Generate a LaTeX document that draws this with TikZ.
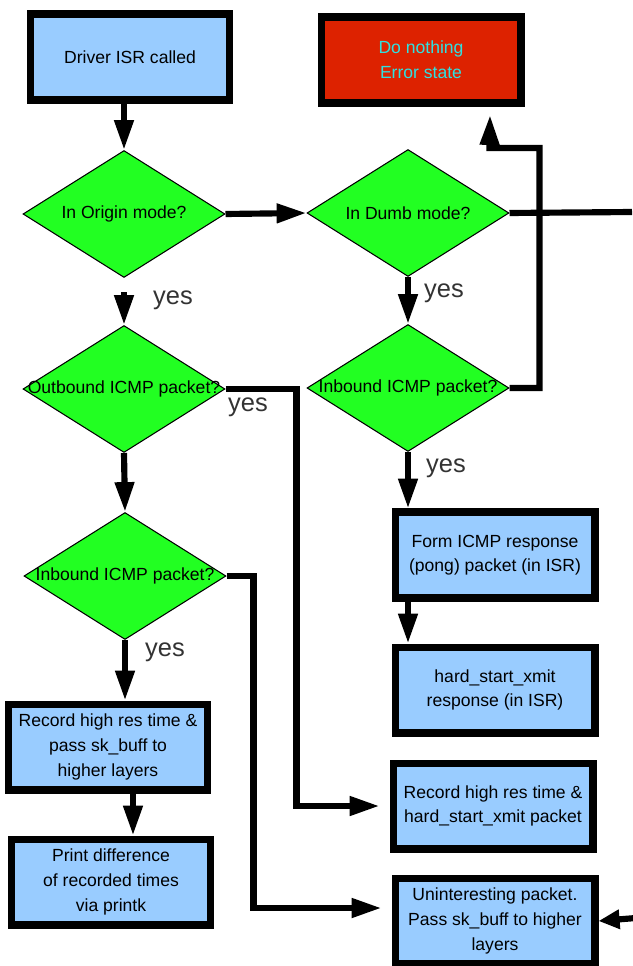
\documentclass[tikz,border=0pt]{standalone}
\usepackage{fontspec}
\setmainfont{Liberation Sans}
\usetikzlibrary{arrows.meta,shapes.geometric}
\definecolor{boxblue}{HTML}{99CCFF}
\definecolor{errred}{HTML}{DD2200}
\definecolor{errtext}{HTML}{30E0E0}
\definecolor{askgreen}{HTML}{22FF22}
\definecolor{yesgrey}{HTML}{333333}

\tikzset{
  stepbox/.style={draw=black,line width=4pt,fill=boxblue,minimum width=4cm,minimum height=1.72cm,align=center,inner sep=2pt},
  errbox/.style={stepbox,fill=errred,text=errtext},
  decision/.style={diamond,draw=black,line width=0.6pt,fill=askgreen,minimum width=4.04cm,minimum height=2.54cm,inner sep=0pt},
  yeslbl/.style={text=yesgrey,font=\fontsize{14.5}{16}\selectfont},
  flow/.style={line width=3.5pt,->},
}

\begin{document}
\begin{tikzpicture}[x=0.02cm,y=-0.02cm,>={Triangle[length=17pt,width=10.5pt]},font=\fontsize{10}{14}\selectfont]
  \useasboundingbox (0,0) rectangle (632,966);
  % boxes
  \node[stepbox] (isr) at (130,57) {Driver ISR called};
  \node[errbox] (err) at (421,60) {Do nothing\\Error state};
  \node[stepbox] (form) at (495,555) {Form ICMP response\\(pong) packet (in ISR)};
  \node[stepbox] (hard) at (495,690) {hard\_start\_xmit\\response (in ISR)};
  \node[stepbox] (recR) at (493,806) {Record high res time \&\\hard\_start\_xmit packet};
  \node[stepbox] (unint) at (495,921) {Uninteresting packet.\\Pass sk\_buff to higher\\layers};
  \node[stepbox] (recL) at (108,747) {Record high res time \&\\pass sk\_buff to\\higher layers};
  \node[stepbox] (print) at (111,882) {Print difference\\of recorded times\\via printk};
  % decisions
  \node[decision] (origin) at (124,214) {\makebox[0pt]{In Origin mode?}};
  \node[decision] (dumb) at (408,213) {\makebox[0pt]{In Dumb mode?}};
  \node[decision] (out) at (124,389) {\makebox[0pt]{Outbound ICMP packet?}};
  \node[decision] (inR) at (408,388) {\makebox[0pt]{Inbound ICMP packet?}};
  \node[decision] (inL) at (125,576) {\makebox[0pt]{Inbound ICMP packet?}};
  % free ends
  \coordinate (errin) at (490,115);
  \coordinate (offR) at (632,212);
  \coordinate (offB) at (636,918);
  % yes labels
  \node[yeslbl] (y1) at (173,300) {yes};
  \node[yeslbl] (y2) at (444,293) {yes};
  \node[yeslbl] (y3) at (248,407) {yes};
  \node[yeslbl] (y4) at (446,468) {yes};
  \node[yeslbl] (y5) at (165,652) {yes};
  % left column
  \draw[flow] (isr.south -| origin.north) -- (origin.north);
  \draw[flow,shorten <=0.28cm] (origin.south) -- (out.north);
  \draw[flow] (out.south) -- (inL.north);
  \draw[flow] (inL.south) -- (inL.south |- recL.north);
  \draw[flow] ([xshift=0.5cm]recL.south) -- ([xshift=0.5cm]recL.south |- print.north);
  % right column
  \draw[flow] (origin.east) -- (dumb.west);
  \draw[line width=3.5pt] (dumb.east) -- (offR);
  \draw[flow] (dumb.south) -- (inR.north);
  \draw[flow] (inR.east) -- ++(30,0) |- ++(-50,-240) -- (errin);
  \draw[flow] (inR.south) -- (inR.south |- form.north);
  \draw[flow] (form.south -| inR.south) -- (hard.north -| inR.south);
  % long runs
  \draw[flow,shorten >=0.2cm] (out.east) -- ++(71,0) |- (recR.west);
  \draw[flow,shorten >=0.2cm] (inL.east) -- ++(27,0) |- ([yshift=0.26cm]unint.west);
  \draw[line width=3.5pt,-{Triangle[length=12pt,width=10.5pt]}] (offB) -- (unint.east);
\end{tikzpicture}
\end{document}
